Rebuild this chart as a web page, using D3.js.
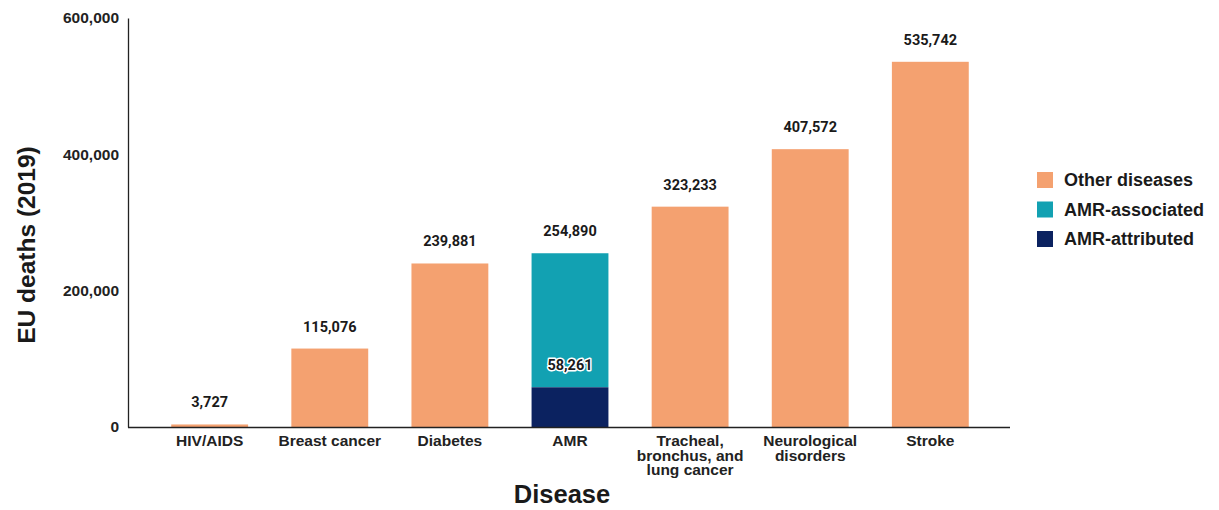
<!DOCTYPE html>
<html><head><meta charset="utf-8">
<script src="https://cdn.jsdelivr.net/npm/d3@7"></script>
<style>body{margin:0;background:#fff}svg{display:block}</style>
</head><body>
<svg id="c" width="1219" height="510"></svg>
<script>
const categories = ["HIV/AIDS","Breast cancer","Diabetes","AMR","Tracheal, bronchus, and lung cancer","Neurological disorders","Stroke"];
const categoryLines = [["HIV/AIDS"],["Breast cancer"],["Diabetes"],["AMR"],["Tracheal,","bronchus, and","lung cancer"],["Neurological","disorders"],["Stroke"]];
const otherDiseases = [3727,115076,239881,0,323233,407572,535742];
const amrAttributed = [0,0,0,58261,0,0,0];
const amrAssociated = [0,0,0,254890,0,0,0];
const totalLabels = ["3,727","115,076","239,881","254,890","323,233","407,572","535,742"];
const yTicks = [0,200000,400000,600000];
const seriesNames = ["Other diseases","AMR-associated","AMR-attributed"];
const seriesColors = ["#F4A170","#12A1B2","#0B2260"];

const svg = d3.select("#c");
const x0 = 128, x1 = 1012, yTop = 18, yBot = 427;
const x = d3.scaleBand().domain(categories).range([x0,x1]).paddingInner(0.36).paddingOuter(0.36);
const y = d3.scaleLinear().domain([0,600000]).range([yBot,yTop]);

// bars
const g = svg.append("g");
categories.forEach((c,i)=>{
  if(otherDiseases[i]>0){
    g.append("rect").attr("x",x(c)).attr("width",x.bandwidth())
      .attr("y",y(otherDiseases[i])).attr("height",y(0)-y(otherDiseases[i]))
      .attr("fill",seriesColors[0]);
  }
  if(amrAssociated[i]>0){
    g.append("rect").attr("x",x(c)).attr("width",x.bandwidth())
      .attr("y",y(amrAssociated[i])).attr("height",y(amrAttributed[i])-y(amrAssociated[i]))
      .attr("fill",seriesColors[1]);
    g.append("rect").attr("x",x(c)).attr("width",x.bandwidth())
      .attr("y",y(amrAttributed[i])).attr("height",y(0)-y(amrAttributed[i]))
      .attr("fill",seriesColors[2]);
  }
});

// value labels
const lblFont = "Roboto, 'Liberation Sans', Arial, sans-serif";
categories.forEach((c,i)=>{
  const tot = Math.max(otherDiseases[i], amrAssociated[i]);
  svg.append("text").attr("x",x(c)+x.bandwidth()/2).attr("y",y(tot)-17)
    .attr("text-anchor","middle").attr("font-family",lblFont).attr("font-weight","bold")
    .attr("font-size",14.5).attr("fill","#1a1a1a").text(totalLabels[i]);
  if(amrAttributed[i]>0){
    svg.append("text").attr("x",x(c)+x.bandwidth()/2).attr("y",y(amrAttributed[i])-17)
      .attr("text-anchor","middle").attr("font-family",lblFont).attr("font-weight","bold")
      .attr("font-size",14.5).attr("fill","#1a1a1a")
      .attr("stroke","#fff").attr("stroke-width",3).attr("paint-order","stroke")
      .attr("stroke-linejoin","round").text(d3.format(",")(amrAttributed[i]));
  }
});

// axes
const font = "'Liberation Sans', Arial, sans-serif";
const yAxis = svg.append("g").attr("transform",`translate(${x0},0)`)
  .call(d3.axisLeft(y).tickValues(yTicks).tickFormat(d3.format(",")).tickSize(0).tickPadding(9));
yAxis.select(".domain").attr("stroke","#222").attr("stroke-width",1.3);
yAxis.selectAll("text").attr("font-family",font).attr("font-weight","bold").attr("font-size",15.5).attr("fill","#222");

const xAxis = svg.append("g").attr("transform",`translate(0,${yBot})`)
  .call(d3.axisBottom(x).tickSize(0).tickPadding(8).tickFormat(""));
xAxis.select(".domain").attr("stroke","#222").attr("stroke-width",1.3).attr("d",`M${x0},0.5H1010`);
xAxis.selectAll(".tick text").each(function(d,i){
  const t = d3.select(this);
  t.attr("font-family",font).attr("font-weight","bold").attr("font-size",15.5).attr("fill","#222");
  categoryLines[categories.indexOf(d)].forEach((ln,k)=>{
    t.append("tspan").attr("x",0).attr("dy",k===0?"0.71em":"0.95em").text(ln);
  });
});

// axis titles
svg.append("text").attr("transform","translate(35,245) rotate(-90)").attr("text-anchor","middle")
  .attr("font-family",font).attr("font-weight","bold").attr("font-size",24.5).attr("fill","#1a1a1a")
  .text("EU deaths (2019)");
svg.append("text").attr("x",562).attr("y",503).attr("text-anchor","middle")
  .attr("font-family",font).attr("font-weight","bold").attr("font-size",25.5).attr("fill","#1a1a1a")
  .text("Disease");

// legend
const lg = svg.append("g").attr("transform","translate(1037,172)");
seriesNames.forEach((n,i)=>{
  const row = lg.append("g").attr("transform",`translate(0,${i*29.5})`);
  row.append("rect").attr("width",16).attr("height",16).attr("fill",seriesColors[i]);
  row.append("text").attr("x",27).attr("y",14).attr("font-family",font).attr("font-weight","bold")
    .attr("font-size",18).attr("fill","#1a1a1a").text(n);
});
</script>
</body></html>
